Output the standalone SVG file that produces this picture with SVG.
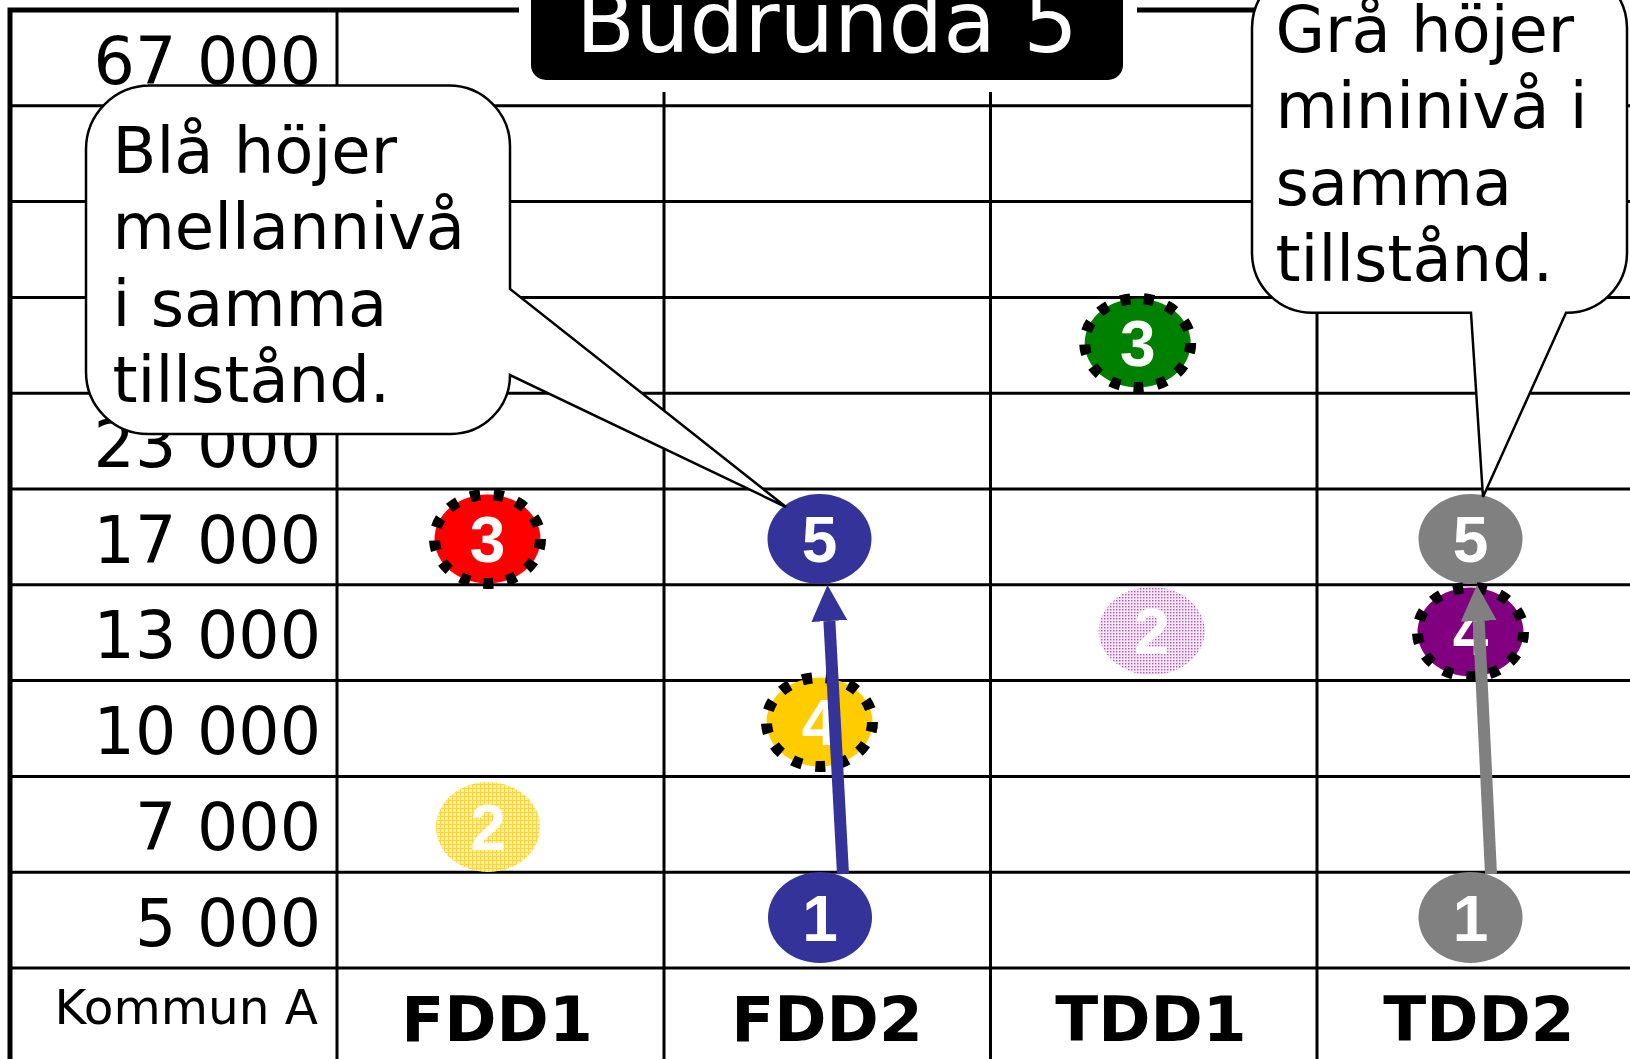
<svg xmlns="http://www.w3.org/2000/svg" width="1630" height="1059" viewBox="0 0 1630 1059">
<defs>
<style>
.grid{stroke:#000;stroke-width:3;fill:none}
.border{stroke:#000;stroke-width:5;fill:none}
.ylab{font-family:"DejaVu Sans",Verdana,sans-serif;font-size:65px;fill:#000;text-anchor:end}
.head{font-family:"DejaVu Sans",Verdana,sans-serif;font-weight:bold;font-size:63px;fill:#000;text-anchor:middle}
.num{font-family:"Liberation Sans",Arial,sans-serif;font-weight:bold;font-size:64px;fill:#fff;text-anchor:middle}
.bub{fill:#fff;stroke:#000;stroke-width:2.5}
.btxt{font-family:"DejaVu Sans",Verdana,sans-serif;font-size:64px;fill:#000}
.dash{stroke:#000;stroke-width:11;stroke-dasharray:10 13.6}
</style>
<pattern id="pYel" width="4" height="4" patternUnits="userSpaceOnUse">
<rect width="4" height="4" fill="#FFF0A8"/>
<rect width="4" height="1" fill="#FFD43A"/>
<rect width="1" height="4" fill="#FFD43A"/>
</pattern>
<pattern id="pPink" width="3" height="3" patternUnits="userSpaceOnUse">
<rect width="3" height="3" fill="#F6E6F6"/>
<rect width="1.4" height="1.4" fill="#B25AB2"/>
</pattern>
<marker id="ahBlue" markerUnits="userSpaceOnUse" markerWidth="36" markerHeight="36" refX="0" refY="18" orient="auto">
<path d="M0,0 L36,18 L0,36 Z" fill="#333399"/>
</marker>
<marker id="ahGray" markerUnits="userSpaceOnUse" markerWidth="36" markerHeight="36" refX="0" refY="18" orient="auto">
<path d="M0,0 L36,18 L0,36 Z" fill="#808080"/>
</marker>
</defs>
<rect width="1630" height="1059" fill="#fff"/>

<g id="grid">
<path class="grid" d="M10,105.8H1630M10,201.6H1630M10,297.4H1630M10,393.2H1630M10,489H1630M10,584.8H1630M10,680.6H1630M10,776.4H1630M10,872.2H1630M10,968H1630"/>
<path class="grid" d="M337,10V1059M664,92V1059M990.5,92V1059M1317,92V1059"/>
<path class="border" d="M10,1059V10H519M1137,10H1260"/>
</g>

<g id="labels">
<text class="ylab" x="321" y="84">67 000</text>
<text class="ylab" x="321" y="466.5">23 000</text>
<text class="ylab" x="321" y="562.5">17 000</text>
<text class="ylab" x="321" y="658.3">13 000</text>
<text class="ylab" x="321" y="754">10 000</text>
<text class="ylab" x="321" y="849.5">7 000</text>
<text class="ylab" x="321" y="945.5">5 000</text>
<text x="318" y="1024" font-family="DejaVu Sans, Verdana, sans-serif" font-size="48.5" text-anchor="end">Kommun A</text>
</g>

<g id="headers">
<text class="head" x="497" y="1041">FDD1</text>
<text class="head" x="827" y="1041">FDD2</text>
<text class="head" x="1151" y="1041">TDD1</text>
<text class="head" x="1479" y="1041">TDD2</text>
</g>

<g id="title">
<rect x="519" y="-10" width="618" height="102" fill="#fff"/>
<rect x="531" y="-20" width="592" height="100" rx="15" fill="#000"/>
<text x="827" y="52" font-family="DejaVu Sans, Verdana, sans-serif" font-size="86" fill="#fff" text-anchor="middle">Budrunda 5</text>
</g>

<g id="chip-red3">
<ellipse cx="487.5" cy="539" rx="53" ry="44.5" fill="#FF0000" class="dash"/>
<text class="num" x="487.5" y="562">3</text>
</g>
<g id="chip-yel2">
<ellipse cx="488" cy="827" rx="52" ry="45" fill="url(#pYel)"/>
<text class="num" x="488" y="850">2</text>
</g>
<g id="chip-blue5">
<ellipse cx="819.5" cy="539" rx="52" ry="45" fill="#333399"/>
<text class="num" x="819.5" y="562">5</text>
</g>
<g id="chip-gold4">
<ellipse cx="819.5" cy="722" rx="53" ry="44.5" fill="#FFCC00" class="dash"/>
<text class="num" x="819.5" y="745">4</text>
</g>
<g id="chip-blue1">
<ellipse cx="820" cy="917.5" rx="52" ry="45.5" fill="#333399"/>
<text class="num" x="820" y="941">1</text>
</g>
<g id="chip-green3">
<ellipse cx="1137.7" cy="343" rx="53" ry="44.5" fill="#008000" class="dash"/>
<text class="num" x="1137.7" y="366">3</text>
</g>
<g id="chip-pink2">
<ellipse cx="1151.7" cy="631" rx="53" ry="44" fill="url(#pPink)"/>
<text class="num" x="1151.7" y="654">2</text>
</g>
<g id="chip-gray5">
<ellipse cx="1470.5" cy="539" rx="52" ry="45" fill="#808080"/>
<text class="num" x="1470.5" y="562">5</text>
</g>
<g id="chip-purple4">
<ellipse cx="1470.5" cy="632" rx="53" ry="44.5" fill="#800080" class="dash"/>
<text class="num" x="1470.5" y="655">4</text>
</g>
<g id="chip-gray1">
<ellipse cx="1470.5" cy="917.5" rx="52" ry="45.5" fill="#808080"/>
<text class="num" x="1470.5" y="941">1</text>
</g>

<g id="connectors">
<line x1="843" y1="874" x2="829.4" y2="621" stroke="#333399" stroke-width="12" marker-end="url(#ahBlue)"/>
<line x1="1491" y1="874" x2="1478.7" y2="621" stroke="#808080" stroke-width="12" marker-end="url(#ahGray)"/>
</g>

<g id="bubble-bla">
<path class="bub" d="M148,85.5H449A61,61 0 0 1 510,146.5V289L786,507L510,375V375A59,59 0 0 1 451,434H148A62,62 0 0 1 86,372V149A64,64 0 0 1 150,85.5Z"/>
<text class="btxt" x="112.5" y="172.5">Blå höjer</text>
<text class="btxt" x="112.5" y="249">mellannivå</text>
<text class="btxt" x="112.5" y="325.5">i samma</text>
<text class="btxt" x="112.5" y="402">tillstånd.</text>
</g>

<g id="bubble-gra">
<path class="bub" d="M1312,-32H1567A60,60 0 0 1 1627,28V253A60,60 0 0 1 1566,312.7L1483,497L1471,312.7H1312A60,60 0 0 1 1252,252.7V28A60,60 0 0 1 1312,-32Z"/>
<text class="btxt" x="1275.5" y="51.7">Grå höjer</text>
<text class="btxt" x="1275.5" y="127.8">mininivå i</text>
<text class="btxt" x="1275.5" y="204.5">samma</text>
<text class="btxt" x="1275.5" y="280.6">tillstånd.</text>
</g>
</svg>
